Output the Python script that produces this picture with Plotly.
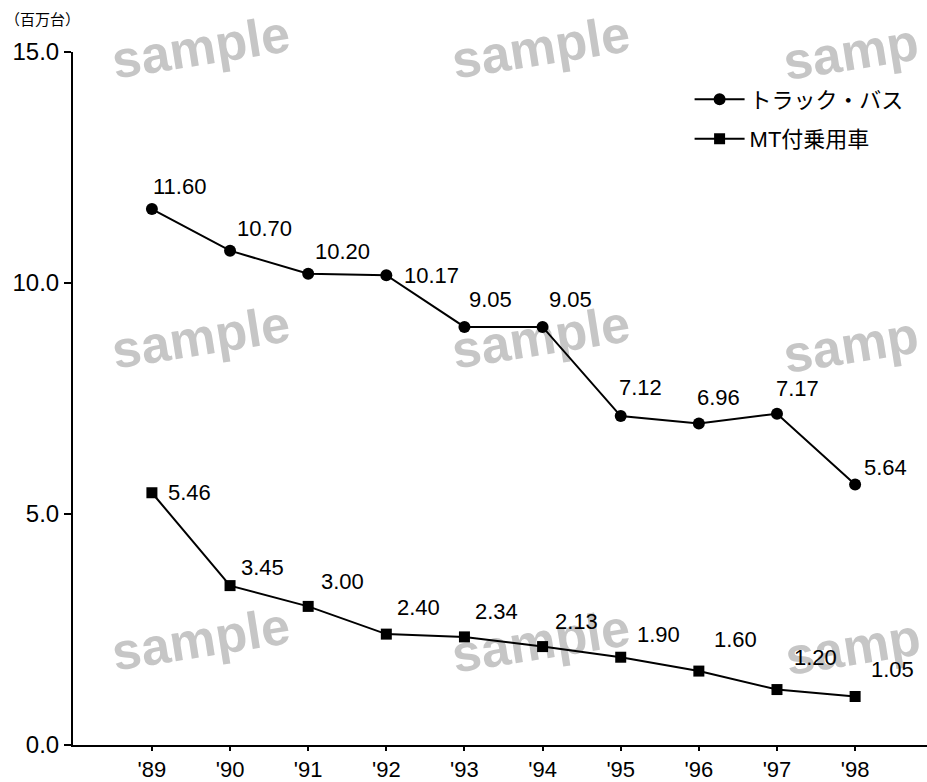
import plotly.graph_objects as go

years = ["'89", "'90", "'91", "'92", "'93", "'94", "'95", "'96", "'97", "'98"]
truck_bus = [11.60, 10.70, 10.20, 10.17, 9.05, 9.05, 7.12, 6.96, 7.17, 5.64]
mt_cars = [5.46, 3.45, 3.00, 2.40, 2.34, 2.13, 1.90, 1.60, 1.20, 1.05]
y_ticks = [0, 5, 10, 15]
y_tick_text = ["0.0", "5.0", "10.0", "15.0"]

# label offsets (pixels) for each data label
truck_dx = [28, 34, 34, 45, 26, 28, 20, 20, 21, 30]
truck_dy = [23, 22, 22, 0, 27, 27, 29, 26, 25, 17]
mt_dx = [38, 32, 34, 32, 32, 34, 38, 37, 39, 37]
mt_dy = [0, 18, 25, 27, 25, 25, 23, 32, 32, 27]

NUM_FONT = "Liberation Sans, Arial, sans-serif"
JP_FONT = "Liberation Sans, Noto Sans CJK JP, sans-serif"
xs = list(range(len(years)))

fig = go.Figure()
fig.add_trace(go.Scatter(
    x=xs, y=truck_bus, mode="lines+markers", name="トラック・バス", legendgroup="a",
    line=dict(color="black", width=2),
    marker=dict(symbol="circle", size=12, color="black"),
))
fig.add_trace(go.Scatter(
    x=xs, y=mt_cars, mode="lines+markers", name="MT付乗用車", legendgroup="b",
    line=dict(color="black", width=2),
    marker=dict(symbol="square", size=11, color="black"),
))

# watermark (drawn below the data, like the reference)
wm = [("sample", 200, 42), ("sample", 540, 42), ("samp", 850, 47),
      ("sample", 200, 332), ("sample", 540, 332), ("samp", 850, 340),
      ("sample", 200, 634), ("sample", 540, 636), ("samp", 852, 642)]
shapes = []
for txt, px, py in wm:
    cx = (px - 73) / 854
    cy = (745 - py) / 693
    shapes.append(dict(
        type="rect", xref="paper", yref="paper", layer="below",
        x0=cx - 0.001, x1=cx + 0.001, y0=cy - 0.001, y1=cy + 0.001,
        line=dict(width=0), fillcolor="rgba(0,0,0,0)",
        label=dict(text="<b>" + txt + "</b>", textangle=-9, textposition="middle center",
                   font=dict(family="Liberation Sans, sans-serif", size=52, color="#c6c6c6")),
    ))

annotations = []
for i, v in enumerate(truck_bus):
    annotations.append(dict(x=xs[i], y=v, text=f"{v:.2f}", showarrow=False,
                            xshift=truck_dx[i], yshift=truck_dy[i],
                            font=dict(family=NUM_FONT, size=22, color="black")))
for i, v in enumerate(mt_cars):
    annotations.append(dict(x=xs[i], y=v, text=f"{v:.2f}", showarrow=False,
                            xshift=mt_dx[i], yshift=mt_dy[i],
                            font=dict(family=NUM_FONT, size=22, color="black")))

annotations.append(dict(x=0, y=1, xref="paper", yref="paper", xshift=-70, yshift=34,
                        text="（百万台）", showarrow=False, xanchor="left", yanchor="middle",
                        font=dict(family="Noto Sans CJK JP, sans-serif", size=15, color="black")))

fig.update_layout(
    width=927, height=782,
    margin=dict(l=73, r=0, t=52, b=37),
    paper_bgcolor="white", plot_bgcolor="white",
    showlegend=True,
    legend=dict(x=0.722, y=0.962, xanchor="left", yanchor="top",
                font=dict(family=JP_FONT, size=22, color="black"),
                bgcolor="rgba(0,0,0,0)", itemwidth=50, tracegroupgap=8),
    xaxis=dict(range=[-1.01, 9.92], tickmode="array", tickvals=xs, ticktext=years,
               showline=True, linecolor="black", linewidth=2, showgrid=False,
               zeroline=False, ticks="outside", ticklen=4, tickwidth=1.5, tickcolor="black",
               automargin=False,
               tickfont=dict(family=NUM_FONT, size=22, color="black")),
    yaxis=dict(range=[0, 15], tickmode="array", tickvals=y_ticks, ticktext=y_tick_text,
               showline=True, linecolor="black", linewidth=2, showgrid=False,
               zeroline=False, ticks="outside", ticklen=7, tickwidth=1.5, tickcolor="black",
               automargin=False,
               tickfont=dict(family=NUM_FONT, size=24, color="black")),
    shapes=shapes,
    annotations=annotations,
)

fig.write_html("out.html")
